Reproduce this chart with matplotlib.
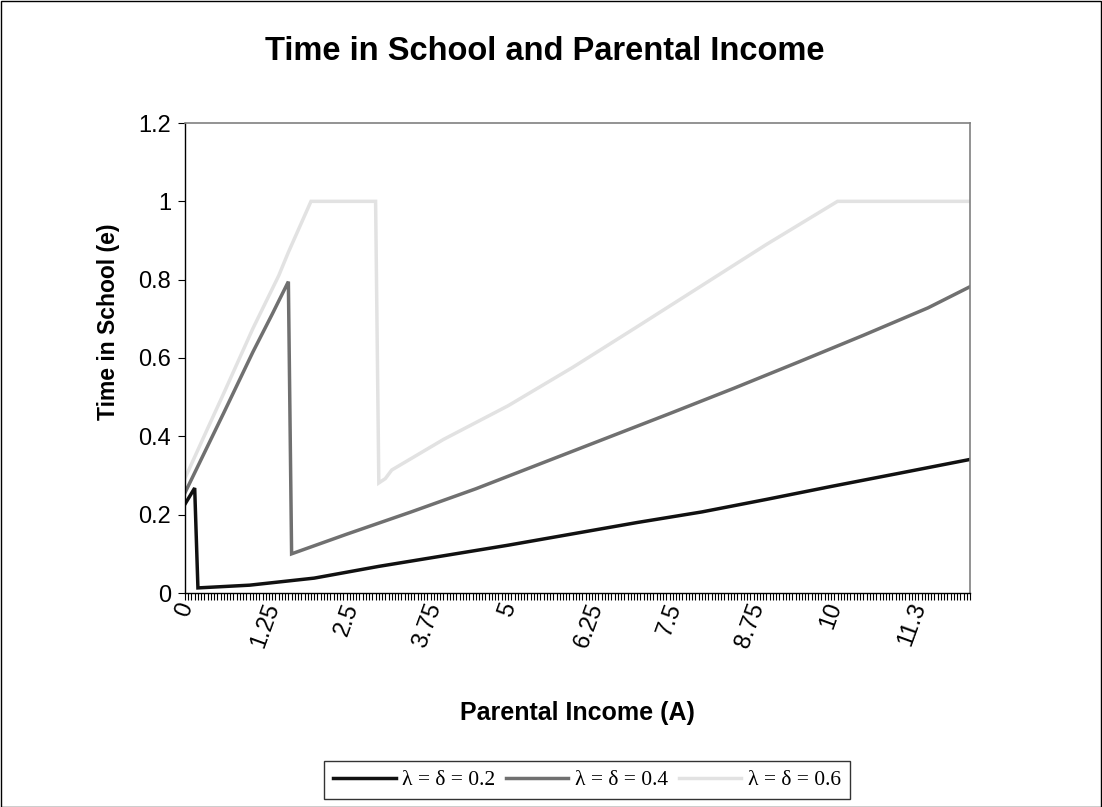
import matplotlib
matplotlib.use("Agg")
import matplotlib.pyplot as plt
from matplotlib.ticker import MultipleLocator
from matplotlib.patches import Rectangle

# ==============================
# Data
# ==============================

a_02 = [0, 0.15, 0.2, 1, 2, 3, 4, 5, 6, 7, 8, 9, 10, 11, 12.15]
e_02 = [0.227, 0.268, 0.013, 0.02, 0.038, 0.068, 0.095, 0.122, 0.151, 0.180,
        0.207, 0.239, 0.272, 0.304, 0.341]

a_04 = [0, 0.35, 0.6, 1.05, 1.35, 1.6, 1.65, 2.5, 3.5, 4.5, 5.5, 6.5, 7.5,
        8.5, 9.5, 10.5, 11.5, 12.15]
e_04 = [0.256, 0.375, 0.46, 0.615, 0.712, 0.795, 0.10, 0.15, 0.207, 0.266,
        0.33, 0.394, 0.458, 0.523, 0.59, 0.658, 0.728, 0.782]

a_06 = [0, 0.35, 0.6, 1.05, 1.45, 1.6, 1.95, 2.95, 3.0, 3.1, 3.2, 4, 5, 6, 7,
        8, 9, 10.1, 12.15]
e_06 = [0.293, 0.42, 0.51, 0.675, 0.81, 0.87, 1.0, 1.0, 0.281, 0.292, 0.314,
        0.392, 0.478, 0.576, 0.68, 0.785, 0.89, 1.0, 1.0]

series_labels = ["λ = δ = 0.2", "λ = δ = 0.4", "λ = δ = 0.6"]
series_colors = ["#111111", "#707070", "#e2e2e2"]

x_tick_values = [0, 1.25, 2.5, 3.75, 5, 6.25, 7.5, 8.75, 10, 11.25]
x_tick_labels = ["0", "1.25", "2.5", "3.75", "5", "6.25", "7.5", "8.75", "10", "11.3"]
y_tick_values = [0, 0.2, 0.4, 0.6, 0.8, 1.0, 1.2]
y_tick_labels = ["0", "0.2", "0.4", "0.6", "0.8", "1", "1.2"]

# ==============================
# Figure
# ==============================

plt.rcParams["font.family"] = ["Liberation Sans", "DejaVu Sans"]

fig = plt.figure(figsize=(11.02, 8.07), dpi=100)
W, H = 1102, 807
ax = fig.add_axes([185 / W, 1 - 593 / H, (970 - 185) / W, (593 - 123) / H])

for a, e, lab, col in zip([a_02, a_04, a_06], [e_02, e_04, e_06],
                          series_labels, series_colors):
    ax.plot(a, e, color=col, lw=2.5, label=lab, solid_joinstyle="miter")

ax.set_xlim(0, 12.15)
ax.set_ylim(0, 1.2)

ax.set_xticks(x_tick_values)
ax.set_xticklabels(x_tick_labels, rotation=70, fontsize=17)
ax.xaxis.set_minor_locator(MultipleLocator(0.05))
ax.tick_params(axis="x", which="both", direction="out", length=5, width=0.8,
               color="black", pad=0)
ax.set_yticks(y_tick_values)
ax.set_yticklabels(y_tick_labels, fontsize=17)
ax.tick_params(axis="y", direction="out", length=5, width=0.8, color="black", pad=5)

for s in ["left", "bottom"]:
    ax.spines[s].set_color("black")
    ax.spines[s].set_linewidth(1.0)
for s in ["top", "right"]:
    ax.spines[s].set_color("#808080")
    ax.spines[s].set_linewidth(1.2)

fig.text(545 / W, 1 - 52 / H, "Time in School and Parental Income",
         ha="center", va="center", fontsize=23.5, fontweight="bold")
fig.text(108 / W, 1 - 322 / H, "Time in School (e)", rotation=90,
         ha="center", va="center", fontsize=16.5, fontweight="bold")
fig.text(577 / W, 1 - 713 / H, "Parental Income (A)",
         ha="center", va="center", fontsize=18, fontweight="bold")

leg = fig.legend(loc="center", bbox_to_anchor=(587 / W, 1 - 780 / H), ncol=3,
                 frameon=True, fancybox=False, edgecolor="black",
                 prop={"family": "Liberation Serif", "size": 15.5},
                 handlelength=2.9, handletextpad=0.3, columnspacing=0.5,
                 borderpad=0.42, borderaxespad=0)
leg.get_frame().set_linewidth(1.0)

# outer chart border
fig.patches.append(Rectangle((0.5 / W, 0.5 / H), 1 - 1.5 / W, 1 - 1.5 / H,
                             transform=fig.transFigure, fill=False,
                             edgecolor="black", lw=1.0))

fig.savefig("out.png", dpi=100)
plt.close(fig)
